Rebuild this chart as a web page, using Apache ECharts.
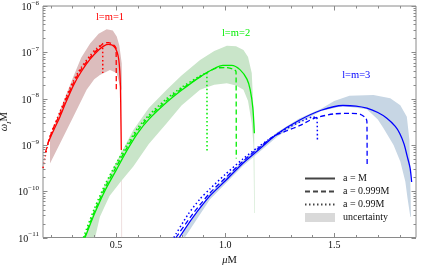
<!DOCTYPE html>
<html><head><meta charset="utf-8">
<script src="https://cdn.jsdelivr.net/npm/echarts@6/dist/echarts.min.js"></script>
<style>html,body{margin:0;padding:0;background:#fff}#c{width:421px;height:268px}</style>
</head><body><div id="c"></div>
<script>
// ---------- data (mu M, omega_I M) ----------
const red_M = [[0.188,1.10e-9],[0.21,1.91e-9],[0.243,4.07e-9],[0.27,8.3e-9],[0.304,1.91e-8],[0.34,3.8e-8],[0.381,7.1e-8],[0.42,1.12e-7],[0.445,1.38e-7],[0.465,1.48e-7],[0.48,1.45e-7],[0.495,1.26e-7],[0.505,1.0e-7],[0.512,7.1e-8],[0.517,3.98e-8],[0.52,1.82e-8],[0.522,3.98e-9],[0.524,7.8e-10]];
const red_999 = [[0.176,6.8e-10],[0.19,1.17e-9],[0.21,2.19e-9],[0.243,4.68e-9],[0.27,9.5e-9],[0.304,2.14e-8],[0.34,4.27e-8],[0.381,7.8e-8],[0.42,1.23e-7],[0.44,1.55e-7],[0.465,1.62e-7],[0.485,1.48e-7],[0.50,1.23e-7],[0.501,1.55e-8]];
const red_99 = [[0.165,3.16e-10],[0.175,5.6e-10],[0.185,9.3e-10],[0.20,1.66e-9],[0.243,5.2e-9],[0.27,1.05e-8],[0.304,2.4e-8],[0.34,4.68e-8],[0.381,8.5e-8],[0.41,1.2e-7],[0.438,1.51e-7],[0.439,3.55e-8]];
const red_bandTop = [[0.197,1.41e-9],[0.243,5.6e-9],[0.304,2.95e-8],[0.34,7.6e-8],[0.381,1.55e-7],[0.42,2.51e-7],[0.457,3.16e-7],[0.485,2.95e-7],[0.503,2.19e-7],[0.515,1.41e-7],[0.526,5.75e-8],[0.527,1.82e-8],[0.5275,1e-11]];
const red_bandBottom = [[0.197,3.98e-10],[0.243,1.07e-9],[0.304,4.07e-9],[0.365,1.55e-8],[0.40,2.63e-8],[0.426,3.24e-8],[0.472,4.17e-8],[0.503,3.55e-8],[0.518,1.82e-8],[0.5252,1.5e-8],[0.5252,1e-11]];

const green_M = [[0.358,1.0e-11],[0.40,3.16e-11],[0.45,1.05e-10],[0.50,2.82e-10],[0.55,7.6e-10],[0.60,1.82e-9],[0.65,3.55e-9],[0.732,8.3e-9],[0.80,1.51e-8],[0.885,2.95e-8],[0.95,4.47e-8],[0.99,5.2e-8],[1.03,5.2e-8],[1.069,4.17e-8],[1.10,2.63e-8],[1.115,1.55e-8],[1.127,6.3e-9],[1.134,1.78e-9]];
const green_999 = [[0.355,1.0e-11],[0.40,3.55e-11],[0.45,1.2e-10],[0.50,3.3e-10],[0.55,8.7e-10],[0.60,2.09e-9],[0.65,3.98e-9],[0.732,9.1e-9],[0.80,1.62e-8],[0.885,2.95e-8],[0.93,3.98e-8],[0.962,4.57e-8],[1.00,4.68e-8],[1.035,4.37e-8],[1.05,3.8e-8],[1.051,5.1e-10]];
const green_99 = [[0.35,1.0e-11],[0.40,4.17e-11],[0.45,1.41e-10],[0.50,3.9e-10],[0.55,1.0e-9],[0.60,2.34e-9],[0.65,4.37e-9],[0.732,1.0e-8],[0.80,1.74e-8],[0.885,3.1e-8],[0.916,3.63e-8],[0.917,7.1e-10]];
const green_bandTop = [[0.355,1.0e-11],[0.40,3.98e-11],[0.45,1.41e-10],[0.50,4.17e-10],[0.579,2.09e-9],[0.65,6.3e-9],[0.732,1.55e-8],[0.80,3.16e-8],[0.885,6.8e-8],[0.95,1.07e-7],[1.008,1.38e-7],[1.05,1.35e-7],[1.084,1.12e-7],[1.105,7.9e-8],[1.122,3.55e-8],[1.133,2.95e-9],[1.1355,3.4e-11]];
const green_bandBottom = [[0.404,1.0e-11],[0.426,2.82e-11],[0.47,7.9e-11],[0.52,1.58e-10],[0.579,3.4e-10],[0.65,1.05e-9],[0.732,2.95e-9],[0.80,7.1e-9],[0.885,1.55e-8],[0.95,2.0e-8],[1.008,2.14e-8],[1.05,1.91e-8],[1.084,1.55e-8],[1.105,8.9e-9],[1.122,2.95e-9],[1.13,1.0e-9],[1.133,3.4e-11]];

const blue_M = [[0.79,1.0e-11],[0.85,2.63e-11],[0.93,7.9e-11],[1.00,1.66e-10],[1.08,3.98e-10],[1.15,7.6e-10],[1.24,1.74e-9],[1.34,3.4e-9],[1.44,5.6e-9],[1.54,7.1e-9],[1.60,6.9e-9],[1.65,6.2e-9],[1.70,5.0e-9],[1.74,3.8e-9],[1.78,2.51e-9],[1.80,1.78e-9],[1.82,1.05e-9],[1.835,5.6e-10],[1.848,3.16e-10],[1.855,1.58e-10]];
const blue_999 = [[0.775,1.0e-11],[0.85,3.16e-11],[0.93,9.1e-11],[1.00,1.91e-10],[1.08,4.37e-10],[1.15,8.3e-10],[1.22,1.51e-9],[1.28,2.0e-9],[1.344,2.63e-9],[1.405,3.7e-9],[1.50,4.68e-9],[1.58,4.79e-9],[1.62,4.57e-9],[1.645,3.8e-9],[1.65,3.16e-9],[1.651,3.4e-10]];
const blue_99 = [[0.765,1.0e-11],[0.83,3.16e-11],[0.885,6.8e-11],[0.93,1.12e-10],[1.00,2.29e-10],[1.08,4.9e-10],[1.15,8.9e-10],[1.24,1.74e-9],[1.30,2.51e-9],[1.36,3.4e-9],[1.40,3.98e-9],[1.42,3.98e-9],[1.423,1.17e-9]];
const blue_bandTop = [[0.80,1.12e-11],[0.93,8.9e-11],[1.08,4.47e-10],[1.24,1.91e-9],[1.34,3.7e-9],[1.44,6.0e-9],[1.50,8.9e-9],[1.57,1.15e-8],[1.68,1.2e-8],[1.757,1.02e-8],[1.803,7.2e-9],[1.833,4.07e-9],[1.845,1.26e-9],[1.85,1.0e-10],[1.852,2.82e-11]];
const blue_bandBottom = [[0.815,1.0e-11],[0.93,6.6e-11],[1.08,3.47e-10],[1.24,1.51e-9],[1.34,3.0e-9],[1.44,5.4e-9],[1.54,6.9e-9],[1.65,5.9e-9],[1.70,3.55e-9],[1.726,2.29e-9],[1.772,1.0e-9],[1.803,4.37e-10],[1.826,1.62e-10],[1.836,7.1e-11],[1.849,2.82e-11]];

// ---------- ticks & labels ----------
const xTickMajor = [0.5, 1.0, 1.5];
const xTickMinor = [0.2,0.3,0.4,0.6,0.7,0.8,0.9,1.1,1.2,1.3,1.4,1.6,1.7,1.8];
const yTickMajor = [1e-11,1e-10,1e-9,1e-8,1e-7,1e-6];
const yTickMinorMantissa = [2,3,4,5,6,7,8,9];
const groupLabels = ['l=m=1','l=m=2','l=m=3'];
const groupLabelPos = [[0.472,5.8e-7],[1.05,2.6e-7],[1.601,3.2e-8]];
const legendNames = ['a = M','a = 0.999M','a = 0.99M','uncertainty'];

// ---------- styles ----------
const FONT = "'Liberation Serif','DejaVu Serif',serif";
const lineColors = ['#ff0000','#00ee00','#0000ff'];
const bandColors = ['#dcbdbd','#c9e5c9','#c7d6e4'];
const AX = '#8a8a8a';

const groups = [
  {M: red_M, d: red_999, p: red_99, top: red_bandTop, bot: red_bandBottom},
  {M: green_M, d: green_999, p: green_99, top: green_bandTop, bot: green_bandBottom},
  {M: blue_M, d: blue_999, p: blue_99, top: blue_bandTop, bot: blue_bandBottom}
];
const dashTypes = {M: 'solid', d: [5,3], p: [1.5,2.5]};

const series = [];
groups.forEach((g, i) => {
  series.push({
    type: 'custom', name: 'band' + i, silent: true, z: 1, clip: true,
    data: [[1, 1e-8]],
    renderItem: (params, api) => {
      const pts = g.top.concat(g.bot.slice().reverse()).map(p => api.coord(p));
      return {type: 'polygon', shape: {points: pts}, style: {fill: bandColors[i], stroke: null}};
    }
  });
});
groups.forEach((g, i) => {
  ['M','d','p'].forEach(k => {
    series.push({
      type: 'line', name: 'g' + i + k, data: g[k], showSymbol: false, symbol: 'none',
      smooth: 0.25, z: 3, silent: true,
      lineStyle: {color: lineColors[i], width: k === 'p' ? 1.5 : 1.3, type: dashTypes[k]}
    });
  });
});
// group labels
series.push({
  type: 'custom', silent: true, z: 4,
  data: groupLabelPos.map((p, i) => [p[0], p[1], i]),
  renderItem: (params, api) => {
    const i = api.value(2);
    const c = api.coord([api.value(0), api.value(1)]);
    return {type: 'text', x: c[0], y: c[1], style: {text: groupLabels[i], fill: lineColors[i], font: '10.5px ' + FONT, align: 'center', verticalAlign: 'middle'}};
  }
});
// ticks (inside, all four sides)
series.push({
  type: 'custom', silent: true, z: 5, clip: false,
  data: [[1, 1e-8]],
  renderItem: (params, api) => {
    const cs = params.coordSys;
    const L = cs.x, R = cs.x + cs.width, T = cs.y, B = cs.y + cs.height;
    const ch = [];
    const add = (x1, y1, x2, y2) => ch.push({type: 'line', shape: {x1, y1, x2, y2}, style: {stroke: AX, lineWidth: 1}});
    xTickMajor.forEach(v => { const x = Math.round(api.coord([v, 1e-8])[0]) + 0.5; add(x, B, x, B - 4.5); add(x, T, x, T + 4.5); });
    xTickMinor.forEach(v => { const x = Math.round(api.coord([v, 1e-8])[0]) + 0.5; add(x, B, x, B - 2.5); add(x, T, x, T + 2.5); });
    yTickMajor.forEach(v => { const y = Math.round(api.coord([1, v])[1]) + 0.5; add(L, y, L + 4.5, y); add(R, y, R - 4.5, y); });
    yTickMajor.slice(0, -1).forEach(dec => yTickMinorMantissa.forEach(m => {
      const y = Math.round(api.coord([1, dec * m])[1]) + 0.5; add(L, y, L + 2.5, y); add(R, y, R - 2.5, y);
    }));
    return {type: 'group', children: ch};
  }
});
// legend dummies
const legendTypes = ['solid', [5,3], [1.5,2.5]];
legendNames.slice(0, 3).forEach((n, i) => series.push({type: 'line', name: n, data: [], symbol: 'none', showSymbol: false, itemStyle: {color: '#444'}, lineStyle: {color: '#444', type: legendTypes[i], width: 1.6}}));
series.push({type: 'line', name: legendNames[3], data: [], symbol: 'none', itemStyle: {color: '#d9d9d9'}, lineStyle: {color: '#d9d9d9'}});

const chart = echarts.init(document.getElementById('c'), null, {renderer: 'canvas'});
chart.setOption({
  animation: false,
  backgroundColor: '#fff',
  grid: {left: 43, right: 5, top: 6, bottom: 30.5, show: true, borderColor: AX, borderWidth: 1, backgroundColor: 'transparent', outerBoundsMode: 'none', containLabel: false},
  xAxis: {
    type: 'value', min: 0.165, max: 1.875,
    axisLine: {show: false}, axisTick: {show: false}, splitLine: {show: false},
    axisLabel: {customValues: xTickMajor, formatter: v => v.toFixed(1), fontFamily: FONT, fontSize: 10, color: '#111', margin: 3},
    name: '{i|μ}{r|M}', nameLocation: 'middle', nameGap: 17, nameMoveOverlap: false,
    nameTextStyle: {rich: {i: {fontStyle: 'italic', fontSize: 10.5, fontFamily: FONT, color: '#111'}, r: {fontSize: 10.5, fontFamily: FONT, color: '#111'}}}
  },
  yAxis: {
    type: 'log', logBase: 10, min: 1e-11, max: 1e-6, splitNumber: 5,
    axisLine: {show: false}, axisTick: {show: false}, splitLine: {show: false},
    axisLabel: {
      showMinLabel: true, showMaxLabel: true, margin: 4,
      formatter: v => '{b|10}{s|−' + (-Math.round(Math.log10(v))) + '}',
      rich: {
        b: {fontSize: 10, fontFamily: FONT, color: '#111', lineHeight: 13, verticalAlign: 'bottom'},
        s: {fontSize: 7, fontFamily: FONT, color: '#111', lineHeight: 13, verticalAlign: 'top'}
      }
    },
    name: '{w|ω}{sub|I}{m|M}', nameLocation: 'middle', nameRotate: 90, nameGap: 30, nameMoveOverlap: false,
    nameTextStyle: {rich: {
      w: {fontStyle: 'italic', fontSize: 10.5, fontFamily: FONT, color: '#111', lineHeight: 14, verticalAlign: 'top'},
      sub: {fontStyle: 'italic', fontSize: 7, fontFamily: FONT, color: '#111', lineHeight: 14, verticalAlign: 'bottom'},
      m: {fontSize: 10.5, fontFamily: FONT, color: '#111', lineHeight: 14, verticalAlign: 'top'}
    }}
  },
  legend: {
    data: [
      {name: legendNames[0], itemStyle: {opacity: 0}},
      {name: legendNames[1], itemStyle: {opacity: 0}},
      {name: legendNames[2], itemStyle: {opacity: 0}},
      {name: legendNames[3], icon: 'rect'}
    ],
    orient: 'vertical', left: 304, top: 173.5, padding: 0, itemGap: 3, itemWidth: 30, itemHeight: 9,
    selectedMode: false,
    textStyle: {fontFamily: FONT, fontSize: 10, color: '#111', padding: [0, 0, 0, 3]}
  },
  series: series
});
</script></body></html>
